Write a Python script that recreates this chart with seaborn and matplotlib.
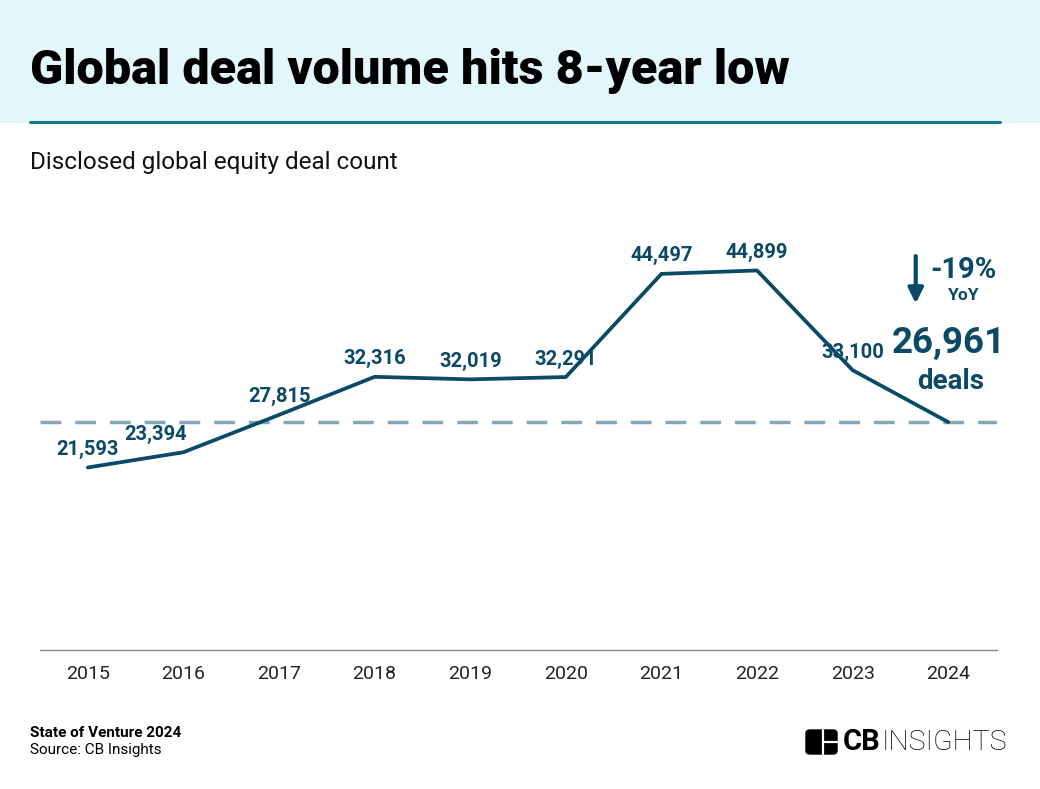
import numpy as np
import pandas as pd
import matplotlib.pyplot as plt
import matplotlib.patches as patches
import seaborn as sns

years = [2015, 2016, 2017, 2018, 2019, 2020, 2021, 2022, 2023, 2024]
deals = [21593, 23394, 27815, 32316, 32019, 32291, 44497, 44899, 33100, 26961]
labels = ['21,593', '23,394', '27,815', '32,316', '32,019', '32,291', '44,497', '44,899', '33,100', '']
label_dx = [0, -20, 0, 0, 0, 0, 0, 0, 0, 0]

navy = '#0B4A66'
dash_col = '#86A7B6'

sns.set_style('white')
plt.rcParams['font.family'] = ['Roboto', 'DejaVu Sans']

df = pd.DataFrame({'year': years, 'deals': deals})

fig = plt.figure(figsize=(10.4, 7.89), dpi=100)

# header band
fig.patches.append(patches.Rectangle((0, 1 - 122 / 789), 1, 122 / 789, transform=fig.transFigure,
                                     color='#E3F6FB', zorder=0))
fig.add_artist(plt.Line2D([30 / 1040, 1000 / 1040], [1 - 122 / 789] * 2, color='#127B8C', lw=2.2))
fig.text(30 / 1040, 1 - 71 / 789, 'Global deal volume hits 8-year low', fontsize=35, fontweight='black',
         va='center', ha='left', color='black')
fig.text(30 / 1040, 1 - 163 / 789, 'Disclosed global equity deal count', fontsize=17.5,
         va='center', ha='left', color='#111111')

ax = fig.add_axes([40 / 1040, 139 / 789, 957 / 1040, 460 / 789])
sns.lineplot(data=df, x='year', y='deals', ax=ax, color=navy, lw=2.7, zorder=3)
ax.axhline(deals[-1], color=dash_col, lw=2.5, dashes=(6, 4), zorder=2)

for x, y, t, dx in zip(years, deals, labels, label_dx):
    if t:
        ax.annotate(t, (x, y), xytext=(dx, 13), textcoords='offset points', ha='center', va='center',
                    fontsize=14.5, fontweight='bold', color=navy)

# 2024 call-out
ax.annotate('', xy=(2023.66, 41000), xytext=(2023.66, 46600),
            arrowprops=dict(arrowstyle='-|>,head_length=0.9,head_width=0.45', color=navy, lw=3,
                            shrinkA=0, shrinkB=0))
ax.text(2024.16, 45000, '-19%', fontsize=21, fontweight='bold', color=navy, ha='center', va='center')
ax.text(2024.16, 41900, 'YoY', fontsize=12.5, fontweight='bold', color=navy, ha='center', va='center')
ax.text(2024.01, 36300, '26,961', fontsize=26.5, fontweight='bold', color=navy, ha='center', va='center')
ax.text(2024.03, 31800, 'deals', fontsize=20, fontweight='bold', color=navy, ha='center', va='center')

ax.set_xlim(2014.5, 2024.51)
ax.set_ylim(0, 54419)
ax.set_xticks(years)
ax.set_xticklabels([str(y) for y in years], fontsize=14, color='#222222')
ax.set_yticks([])
ax.set_xlabel('')
ax.set_ylabel('')
for s in ['top', 'left', 'right']:
    ax.spines[s].set_visible(False)
ax.spines['bottom'].set_color('#888888')
ax.spines['bottom'].set_linewidth(1)
ax.tick_params(axis='x', length=0, pad=11)
ax.patch.set_alpha(0)

# footer
fig.text(30 / 1040, 1 - 733 / 789, 'State of Venture 2024', fontsize=11, fontweight='bold',
         va='center', ha='left', color='black')
fig.text(30 / 1040, 1 - 750 / 789, 'Source: CB Insights', fontsize=11, va='center', ha='left', color='black')

# logo
lx, ly, lw_, lh = 806 / 1040, 1 - 754 / 789, 31 / 1040, 24 / 789
fig.patches.append(patches.FancyBboxPatch((lx, ly), lw_, lh, boxstyle='round,pad=0,rounding_size=0.004',
                                          transform=fig.transFigure, color='black', zorder=5))
fig.add_artist(plt.Line2D([lx + 0.55 * lw_, lx + 0.55 * lw_], [ly, ly + lh], color='white', lw=1.6, zorder=6))
fig.add_artist(plt.Line2D([lx + 0.55 * lw_, lx + lw_], [ly + 0.5 * lh, ly + 0.5 * lh], color='white', lw=1.6, zorder=6))
fig.text(843 / 1040, 1 - 742 / 789, 'CB', fontsize=21, fontweight='bold', va='center', ha='left', color='black')
fig.text(882 / 1040, 1 - 742 / 789, 'INSIGHTS', fontsize=20.5, fontweight='light', va='center', ha='left', color='black')

fig.savefig('out.png', dpi=100)
